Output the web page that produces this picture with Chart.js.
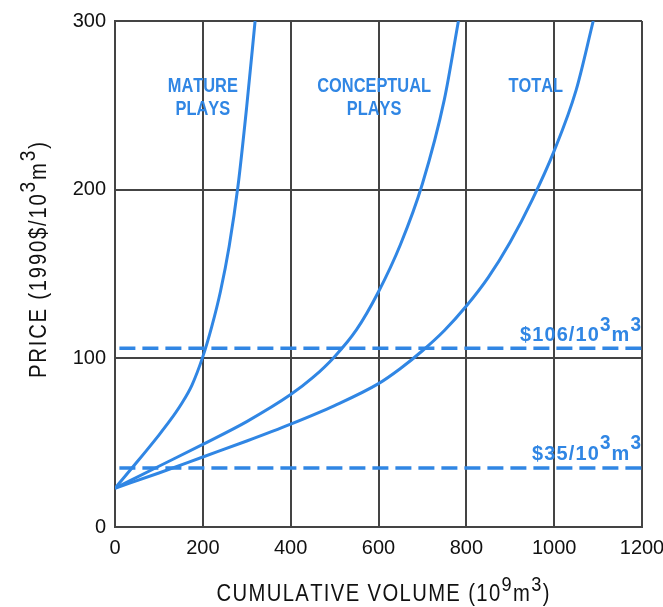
<!DOCTYPE html>
<html>
<head>
<meta charset="utf-8">
<script src="https://cdn.jsdelivr.net/npm/chart.js@4.4.1/dist/chart.umd.min.js"></script>
<style>
  html, body { margin: 0; padding: 0; background: #ffffff; }
  #wrap { width: 663px; height: 607px; }
</style>
</head>
<body>
<div id="wrap"><canvas id="c" width="663" height="607"></canvas></div>
<script>
// ---- data ----
const matureX = [0, 50, 100, 125, 150, 175, 200, 220, 240, 260, 280, 300, 319];
const matureY = [23, 38.5, 54.5, 63, 72.5, 84, 101, 118.5, 139.5, 166.5, 202, 249.5, 300];

const conceptualX = [0, 100, 200, 300, 400, 450, 500, 550, 600, 650, 700, 750, 782];
const conceptualY = [23, 36, 49, 62.5, 78.5, 88.5, 101, 117, 139.5, 167.5, 203.5, 253.5, 300];

const totalX = [0, 100, 200, 300, 400, 500, 600, 650, 700, 750, 800, 850, 900, 950, 1000, 1050, 1089];
const totalY = [23, 32, 41.5, 51, 61, 72, 85, 94, 104.5, 116.5, 131, 148, 169, 194, 223, 259, 300];

const priceLineX = [10, 1200];
const price106 = [106, 106];
const price35 = [35, 35];

const xTicks = [0, 200, 400, 600, 800, 1000, 1200];
const yTicks = [0, 100, 200, 300];

const seriesLabels = [["MATURE", "PLAYS"], ["CONCEPTUAL", "PLAYS"], ["TOTAL"]];

// ---- helpers ----
const BLUE = 'rgb(48,134,228)';
const GRID = '#444444';
const SANS = '"Liberation Sans", Arial, Helvetica, sans-serif';
function pts(xs, ys) { return xs.map((x, i) => ({ x: x, y: ys[i] })); }

// draws text built from segments [text, isSuperscript]
function drawRich(ctx, segs, x, y, opts) {
  const size = opts.size, fam = opts.family, wt = opts.weight || 'normal';
  const hs = opts.hscale || 1;
  const supScale = opts.supScale || 0.85, supRaise = opts.supRaise || 0.45;
  const chars = [];
  segs.forEach(([t, sup]) => { for (const ch of t) chars.push({ ch, sup }); });
  chars.forEach(c => {
    const fs = c.sup ? size * supScale : size;
    ctx.font = wt + ' ' + fs + 'px ' + fam;
    c.w = ctx.measureText(c.ch).width * hs;
    c.fs = fs;
  });
  const natural = chars.reduce((a, c) => a + c.w, 0);
  let spacing = 0;
  if (opts.width && chars.length > 1) spacing = (opts.width - natural) / (chars.length - 1);
  const total = natural + spacing * (chars.length - 1);
  let cx = x;
  if (opts.align === 'center') cx = x - total / 2;
  else if (opts.align === 'right') cx = x - total;
  ctx.textAlign = 'left';
  ctx.textBaseline = 'alphabetic';
  ctx.fillStyle = opts.color;
  chars.forEach(c => {
    ctx.save();
    ctx.font = wt + ' ' + c.fs + 'px ' + fam;
    ctx.translate(cx, c.sup ? y - size * supRaise : y);
    ctx.scale(hs, 1);
    ctx.fillText(c.ch, 0, 0);
    ctx.restore();
    cx += c.w + spacing;
  });
}

const textPlugin = {
  id: 'texts',
  afterDraw(chart) {
    const ctx = chart.ctx;
    const xs = chart.scales.x, ys = chart.scales.y;
    ctx.save();
    const lblFont = { size: 21, family: SANS, weight: 'bold', color: BLUE, hscale: 0.78 };
    // curve labels (anchored in data units)
    const anchors = [200, 590, 958];
    const rows = [258, 244];
    seriesLabels.forEach((lines, i) => {
      lines.forEach((t, j) => {
        drawRich(ctx, [[t, false]], xs.getPixelForValue(anchors[i]), ys.getPixelForValue(rows[j]),
          Object.assign({ align: 'center' }, lblFont));
      });
    });
    // price labels
    const pf = { size: 21, family: SANS, weight: 'bold', color: BLUE, hscale: 0.95, align: 'right', supScale: 0.95, supRaise: 0.5 };
    drawRich(ctx, [['$106/10', false], ['3', true], ['m', false], ['3', true]],
      xs.getPixelForValue(1200) - 1, ys.getPixelForValue(110), Object.assign({ width: 121 }, pf));
    drawRich(ctx, [['$35/10', false], ['3', true], ['m', false], ['3', true]],
      xs.getPixelForValue(1200) - 1, ys.getPixelForValue(40), Object.assign({ width: 109 }, pf));
    // x axis title
    drawRich(ctx, [['CUMULATIVE VOLUME (10', false], ['9', true], ['m', false], ['3', true], [')', false]],
      383, 601, { align: 'center', size: 23, hscale: 0.88, family: SANS, color: '#111', width: 333, supScale: 0.9, supRaise: 0.45 });
    // y axis title
    ctx.translate(46, 260);
    ctx.rotate(-Math.PI / 2);
    drawRich(ctx, [['PRICE (1990$/10', false], ['3', true], ['m', false], ['3', true], [')', false]],
      0, 0, { align: 'center', size: 23, hscale: 0.88, family: SANS, color: '#111', width: 236, supScale: 0.95, supRaise: 0.5 });
    ctx.restore();
  }
};

const curveStyle = { borderColor: BLUE, borderWidth: 3, pointRadius: 0, showLine: true, cubicInterpolationMode: 'monotone', fill: false };
const dashStyle = { borderColor: BLUE, borderWidth: 3.5, pointRadius: 0, showLine: true, borderDash: [16, 7], fill: false, tension: 0 };

new Chart(document.getElementById('c'), {
  type: 'scatter',
  data: {
    datasets: [
      Object.assign({ label: 'Mature plays', data: pts(matureX, matureY) }, curveStyle),
      Object.assign({ label: 'Conceptual plays', data: pts(conceptualX, conceptualY) }, curveStyle),
      Object.assign({ label: 'Total', data: pts(totalX, totalY) }, curveStyle),
      Object.assign({ label: '$106', data: pts(priceLineX, price106) }, dashStyle),
      Object.assign({ label: '$35', data: pts(priceLineX, price35) }, dashStyle)
    ]
  },
  options: {
    responsive: false,
    animation: false,
    events: [],
    layout: { padding: { top: 21, right: 21, left: 0, bottom: 0 } },
    plugins: { legend: { display: false }, tooltip: { enabled: false }, title: { display: false } },
    scales: {
      x: {
        type: 'linear', min: 0, max: 1200,
        afterBuildTicks: s => { s.ticks = xTicks.map(v => ({ value: v })); },
        afterFit: s => { s.height = 80; s.paddingLeft = 0; s.paddingRight = 0; },
        ticks: { padding: 9, color: '#111', callback: v => String(v), font: { size: 20, family: SANS } },
        grid: { color: GRID, lineWidth: 2, drawTicks: false },
        border: { display: true, color: GRID, width: 2 }
      },
      y: {
        type: 'linear', min: 0, max: 300,
        afterBuildTicks: s => { s.ticks = yTicks.map(v => ({ value: v })); },
        afterFit: s => { s.width = 115; s.paddingTop = 0; s.paddingBottom = 0; },
        ticks: { padding: 9, color: '#111', callback: v => String(v), font: { size: 20, family: SANS } },
        grid: { color: GRID, lineWidth: 2, drawTicks: false },
        border: { display: true, color: GRID, width: 2 }
      }
    }
  },
  plugins: [textPlugin]
});
</script>
</body>
</html>
